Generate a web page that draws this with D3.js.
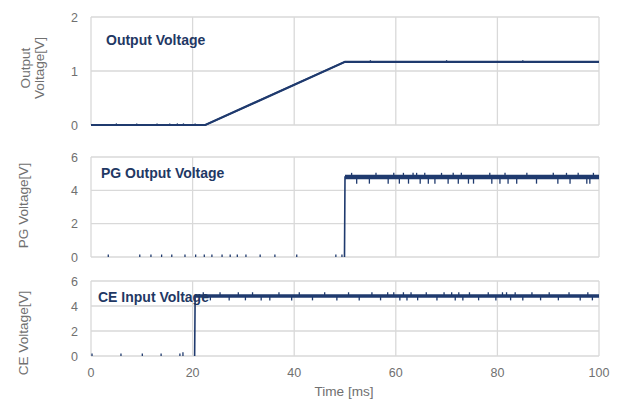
<!DOCTYPE html>
<html>
<head>
<meta charset="utf-8">
<script src="https://cdn.jsdelivr.net/npm/d3@7"></script>
<style>
  body { margin: 0; background: #fff; }
  svg text { font-family: "Liberation Sans", Arial, sans-serif; }
</style>
</head>
<body>
<div id="chart"></div>
<script>
// time axis
var timeTicks = [0, 20, 40, 60, 80, 100];

// output voltage waveform (breakpoints, ms / V)
var outT = [0, 22.5, 50, 100];
var outV = [0, 0, 1.17, 1.17];
var outTickT = [5, 9, 13, 15.5, 17, 18.2, 20.5, 55, 70, 85];
var outTickV = [0.03, 0.03, 0.03, 0.03, 0.03, 0.03, 0.03, 1.2, 1.2, 1.2];

// PG output voltage (trace starts at the rising edge)
var pgT = [49.9, 50, 100];
var pgV = [0, 4.8, 4.8];
var pgSpikeT = [3.4, 9.6, 11.8, 13.9, 15.9, 18.5, 20.6, 22.3, 23.8, 25.8, 27.4, 28.8, 30.5, 33.3, 36.2, 40.5, 48.2, 49.4,
  51.3, 52.3, 54.8, 56.1, 58.5, 59.6, 60.7, 61.5, 62.5, 63.4, 64.1, 64.8, 65.7, 66.4, 67.7, 69.0, 70.3, 71.3,
  72.3, 72.9, 74.3, 75.3, 78.5, 78.9, 80.5, 81.5, 82.1, 83.8, 85.8, 87.7, 91.0, 91.9, 93.6, 94.3, 95.9, 97.6, 98.2, 98.9];
var pgSpikeV = [0.15, 0.15, 0.15, 0.15, 0.15, 0.15, 0.15, 0.15, 0.15, 0.15, 0.15, 0.15, 0.15, 0.15, 0.15, 0.15, 0.15, 0.15,
  5.05, 4.4, 4.4, 5.05, 4.4, 5.05, 4.4, 5.05, 4.4, 5.05, 5.05, 4.4, 5.05, 4.4, 4.4, 5.05, 4.4, 5.05,
  4.4, 5.05, 4.4, 4.4, 5.05, 4.4, 4.4, 5.05, 4.4, 4.4, 5.05, 4.4, 5.05, 4.4, 5.05, 4.4, 5.05, 4.4, 4.4, 5.05];

// CE input voltage (trace starts at the rising edge)
var ceT = [20.4, 20.5, 100];
var ceV = [0, 4.8, 4.8];
var ceSpikeT = [0.2, 5.9, 10.1, 13.8, 17.5, 18.1,
  22.1, 23.5, 25.4, 27.2, 29.0, 30.4, 31.8, 33.5, 35.2, 37.0, 39.5, 41.0, 43.6, 46.0, 48.4, 50.7, 52.8, 55.3,
  57.0, 58.4, 59.6, 60.8, 61.5, 62.2, 63.0, 64.3, 66.0, 68.1, 69.5, 71.0, 71.7, 72.4, 73.2, 74.5, 76.3, 78.2,
  79.7, 81.0, 81.8, 82.6, 83.5, 85.0, 86.8, 88.5, 90.2, 92.0, 94.1, 96.3, 97.8, 98.7];
var ceSpikeV = [0.2, 0.2, 0.2, 0.2, 0.2, 0.3,
  5.1, 4.45, 5.1, 4.45, 5.1, 4.45, 5.1, 4.45, 4.45, 5.1, 4.45, 5.1, 4.45, 5.1, 4.45, 5.1, 4.45, 5.1,
  4.45, 5.1, 5.1, 4.45, 5.1, 4.45, 5.1, 4.45, 5.1, 4.45, 5.1, 5.1, 4.45, 5.1, 4.45, 5.1, 4.45, 5.1,
  4.45, 5.1, 5.1, 4.45, 5.1, 4.45, 5.1, 4.45, 5.1, 4.45, 5.1, 4.45, 5.1, 4.45];

var lineColor = "#1f3a6e";
var gridColor = "#d9d9d9";
var textGrey = "#707070";

var w = 619, h = 405;
var svg = d3.select("#chart").append("svg")
  .attr("width", w).attr("height", h);

var x = d3.scaleLinear().domain([0, 100]).range([91, 599]);

var panels = [
  { top: 17, bottom: 125, max: 2, ticks: [0, 1, 2], title: "Output Voltage", tx: 106, ty: 45,
    ylab: ["Output", "Voltage[V]"], ly: 68, t: outT, v: outV, st: outTickT, sv: outTickV, thickFrom: 0, width: 2.2 },
  { top: 157, bottom: 257, max: 6, ticks: [0, 2, 4, 6], title: "PG Output Voltage", tx: 101, ty: 178,
    ylab: ["PG Voltage[V]"], ly: 205.5, t: pgT, v: pgV, st: pgSpikeT, sv: pgSpikeV, thickFrom: 1, width: 4.5 },
  { top: 281, bottom: 356, max: 6, ticks: [0, 2, 4, 6], title: "CE Input Voltage", tx: 98, ty: 302,
    ylab: ["CE Voltage[V]"], ly: 333, t: ceT, v: ceV, st: ceSpikeT, sv: ceSpikeV, thickFrom: 1, width: 3.5 }
];

panels.forEach(function(p) {
  var y = d3.scaleLinear().domain([0, p.max]).range([p.bottom, p.top]);
  var g = svg.append("g");

  // grid
  g.selectAll("line.hg").data(p.ticks).enter().append("line")
    .attr("x1", x(0)).attr("x2", x(100))
    .attr("y1", function(d) { return y(d); }).attr("y2", function(d) { return y(d); })
    .attr("stroke", gridColor).attr("stroke-width", 1.3);
  g.selectAll("line.vg").data(timeTicks).enter().append("line")
    .attr("x1", function(d) { return x(d); }).attr("x2", function(d) { return x(d); })
    .attr("y1", p.top).attr("y2", p.bottom)
    .attr("stroke", gridColor).attr("stroke-width", 1.3);

  // y tick labels
  g.selectAll("text.yt").data(p.ticks).enter().append("text")
    .attr("x", 78).attr("y", function(d) { return y(d) + 4.5; })
    .attr("text-anchor", "end").attr("font-size", 12.5).attr("fill", textGrey)
    .text(function(d) { return d; });

  // y axis title
  var two = p.ylab.length > 1;
  var lt = g.append("text")
    .attr("transform", "translate(" + (two ? 31 : 28) + "," + p.ly + ") rotate(-90)")
    .attr("text-anchor", "middle").attr("font-size", 13.6).attr("fill", textGrey);
  p.ylab.forEach(function(s, i) {
    lt.append("tspan").attr("x", 0).attr("dy", i === 0 ? (two ? -1 : 0) : 13.5).text(s);
  });

  var line = d3.line()
    .x(function(d) { return x(d[0]); })
    .y(function(d) { return y(d[1]); });

  // spikes (noise) drawn as short vertical strokes off the trace
  var baseAt = function(t) {
    if (t < p.t[0]) return 0;
    for (var i = 1; i < p.t.length; i++) {
      if (t <= p.t[i]) {
        var f = (t - p.t[i - 1]) / (p.t[i] - p.t[i - 1]);
        return p.v[i - 1] + f * (p.v[i] - p.v[i - 1]);
      }
    }
    return p.v[p.v.length - 1];
  };
  g.selectAll("line.sp").data(d3.zip(p.st, p.sv)).enter().append("line")
    .attr("x1", function(d) { return x(d[0]); }).attr("x2", function(d) { return x(d[0]); })
    .attr("y1", function(d) { return y(baseAt(d[0])); })
    .attr("y2", function(d) { return y(d[1]); })
    .attr("stroke", lineColor).attr("stroke-width", 1.3);

  var pts = d3.zip(p.t, p.v);
  // thin trace (edges)
  g.append("path")
    .datum(pts)
    .attr("d", line)
    .attr("fill", "none").attr("stroke", lineColor)
    .attr("stroke-width", 1.6);
  // thick (noisy) trace
  g.append("path")
    .datum(pts.slice(p.thickFrom))
    .attr("d", line)
    .attr("fill", "none").attr("stroke", lineColor)
    .attr("stroke-width", p.width);

  // title
  g.append("text")
    .attr("x", p.tx).attr("y", p.ty)
    .attr("font-size", 14).attr("font-weight", "bold").attr("fill", "#1f3864")
    .text(p.title);
});

// x tick labels
svg.selectAll("text.xt").data(timeTicks).enter().append("text")
  .attr("x", function(d) { return x(d); }).attr("y", 377)
  .attr("text-anchor", "middle").attr("font-size", 12.5).attr("fill", textGrey)
  .text(function(d) { return d; });

svg.append("text")
  .attr("x", 344).attr("y", 396)
  .attr("text-anchor", "middle").attr("font-size", 13.6).attr("fill", textGrey)
  .text("Time [ms]");
</script>
</body>
</html>
